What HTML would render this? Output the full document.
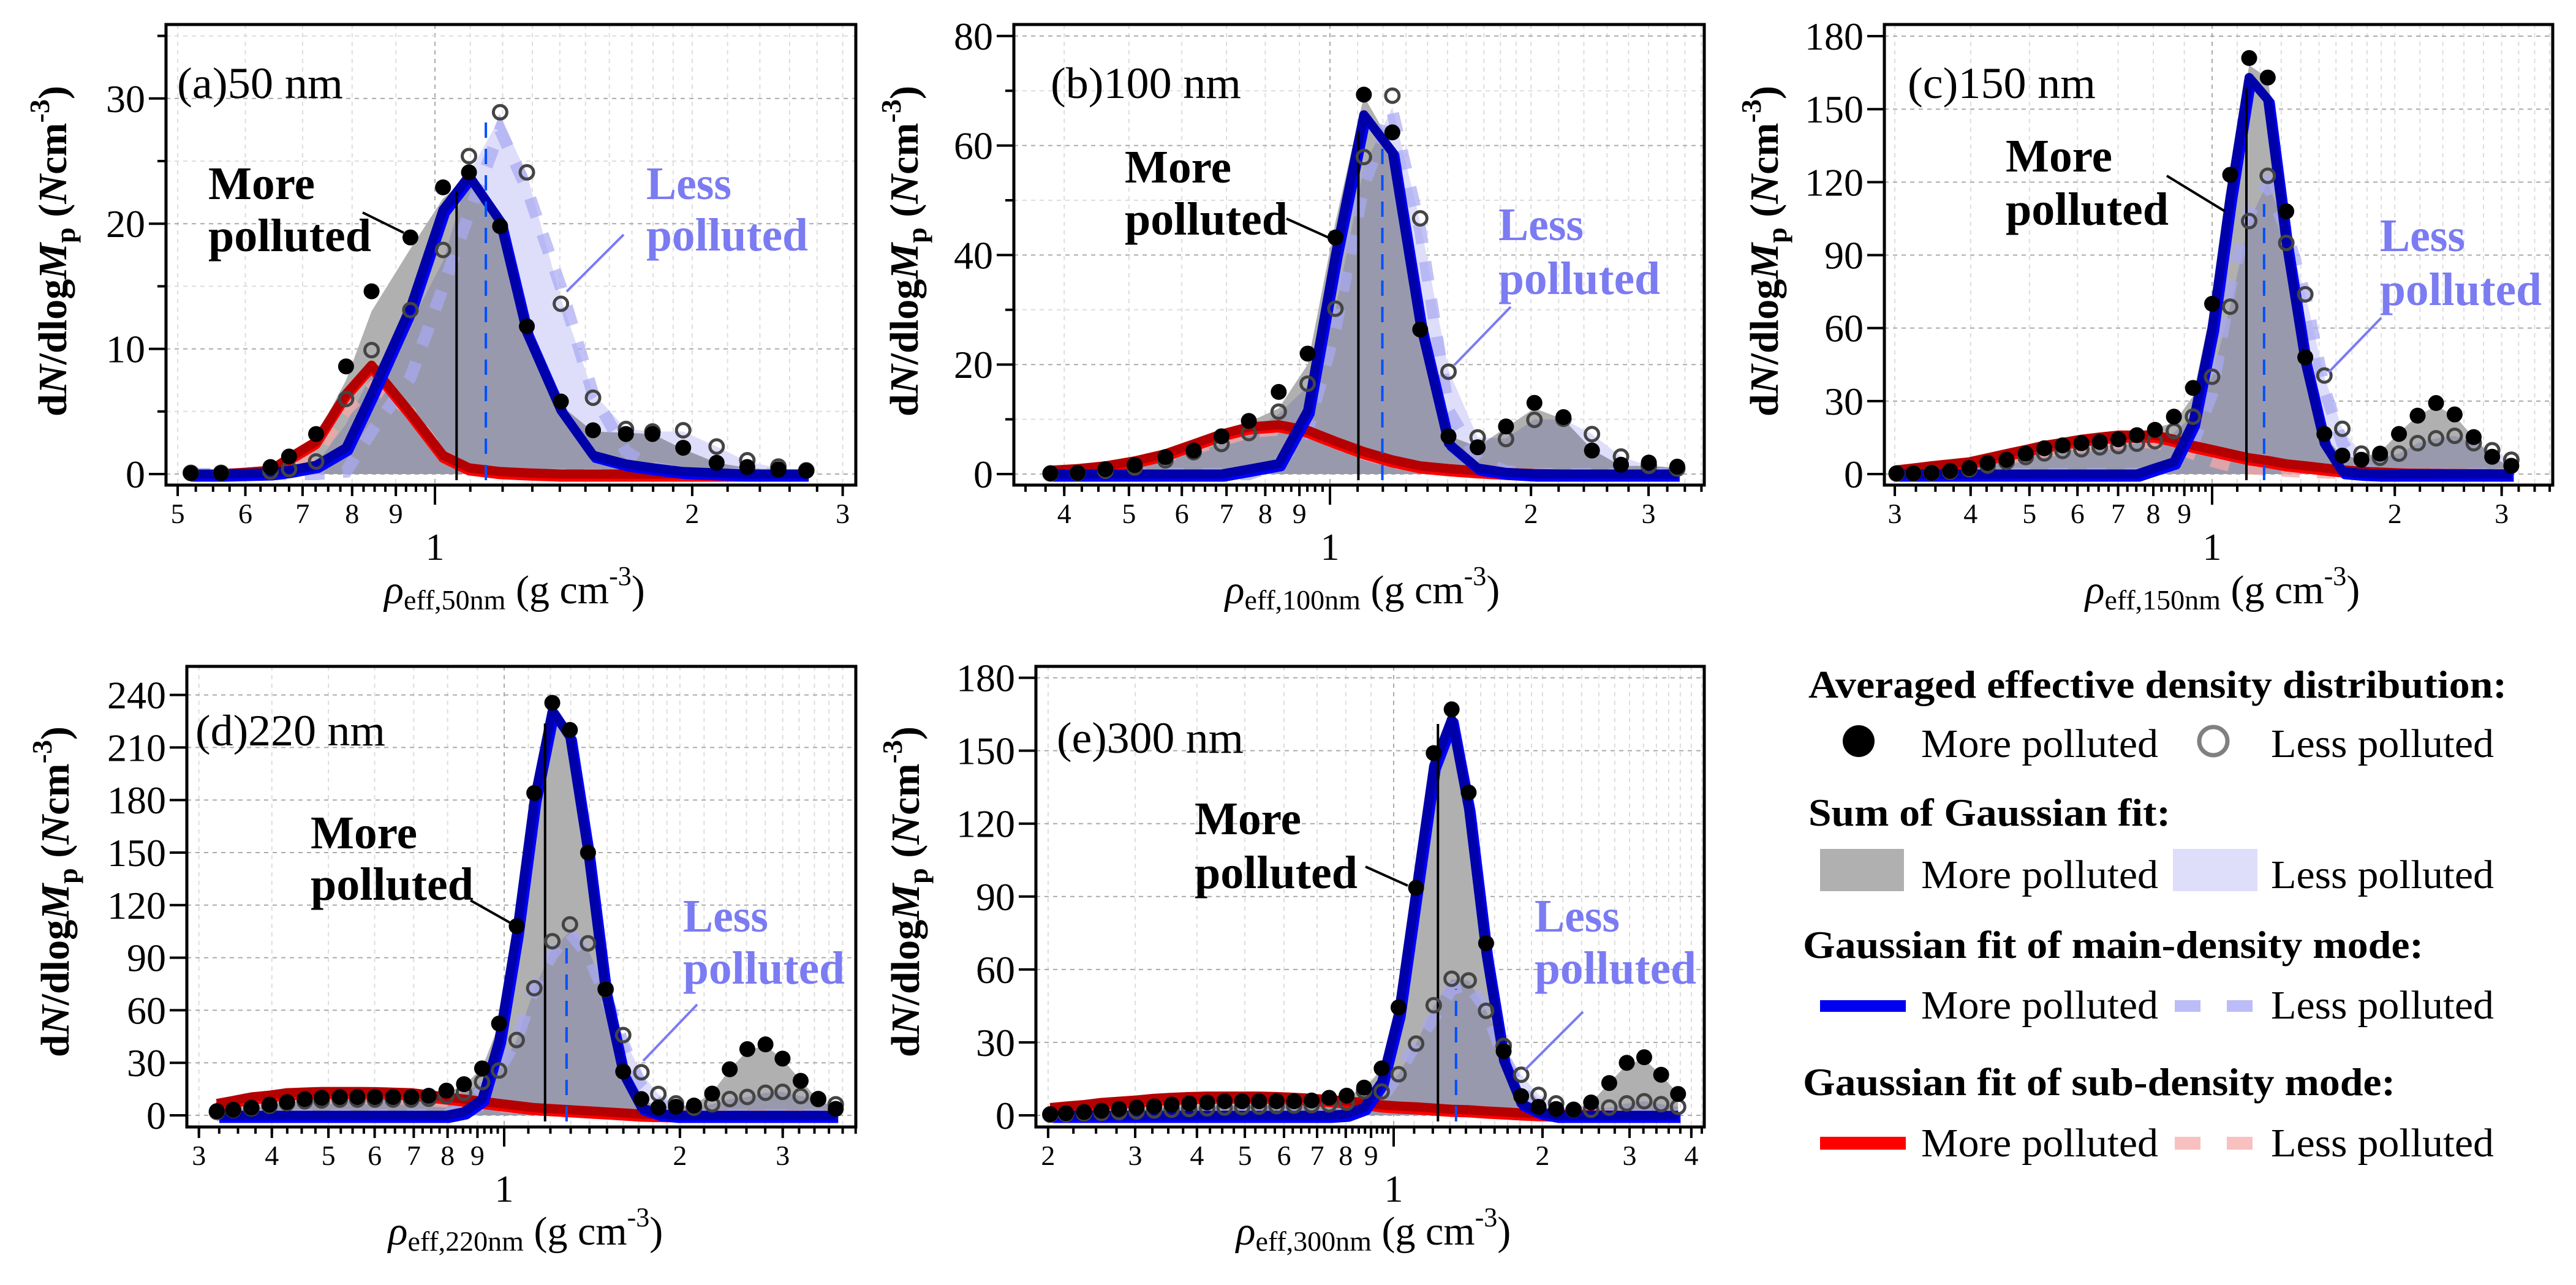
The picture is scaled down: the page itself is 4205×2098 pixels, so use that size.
<!DOCTYPE html>
<html><head><meta charset="utf-8"><title>Effective density distributions</title>
<style>
html,body{margin:0;padding:0;background:#fff;}
svg, svg text{font-family:"Liberation Serif","DejaVu Serif",serif;}
</style></head>
<body>
<svg id="fig" xmlns="http://www.w3.org/2000/svg" width="4205" height="2093" viewBox="0 0 4205 2093" font-family="Liberation Serif, serif">
<rect x="0" y="0" width="4205" height="2093" fill="#fff"/>
<g id="panels"></g>
<g id="legend">
  <text x="2952" y="1139" font-size="64" font-weight="bold" textLength="1140" lengthAdjust="spacingAndGlyphs">Averaged effective density distribution:</text>
  <circle cx="3034" cy="1210" r="26" fill="#000"/>
  <text x="3136" y="1236" font-size="66" textLength="387" lengthAdjust="spacingAndGlyphs">More polluted</text>
  <circle cx="3613" cy="1210" r="23" fill="none" stroke="#808080" stroke-width="7"/>
  <text x="3707" y="1236" font-size="66" textLength="364" lengthAdjust="spacingAndGlyphs">Less polluted</text>
  <text x="2952" y="1348" font-size="64" font-weight="bold" textLength="591" lengthAdjust="spacingAndGlyphs">Sum of Gaussian fit:</text>
  <rect x="2971" y="1386" width="137" height="69" fill="#b0b0b0"/>
  <text x="3136" y="1450" font-size="66" textLength="387" lengthAdjust="spacingAndGlyphs">More polluted</text>
  <rect x="3547" y="1386" width="138" height="69" fill="#dedefb"/>
  <text x="3707" y="1450" font-size="66" textLength="364" lengthAdjust="spacingAndGlyphs">Less polluted</text>
  <text x="2943" y="1564" font-size="64" font-weight="bold" textLength="1013" lengthAdjust="spacingAndGlyphs">Gaussian fit of main-density mode:</text>
  <rect x="2971" y="1633" width="140" height="19" fill="#0000f0"/>
  <text x="3136" y="1663" font-size="66" textLength="387" lengthAdjust="spacingAndGlyphs">More polluted</text>
  <rect x="3550" y="1633" width="42" height="19" fill="#bcbcf8"/>
  <rect x="3635" y="1633" width="42" height="19" fill="#bcbcf8"/>
  <text x="3707" y="1663" font-size="66" textLength="364" lengthAdjust="spacingAndGlyphs">Less polluted</text>
  <text x="2943" y="1788" font-size="64" font-weight="bold" textLength="967" lengthAdjust="spacingAndGlyphs">Gaussian fit of sub-density mode:</text>
  <rect x="2971" y="1856" width="140" height="21" fill="#ff0000"/>
  <text x="3136" y="1888" font-size="66" textLength="387" lengthAdjust="spacingAndGlyphs">More polluted</text>
  <rect x="3550" y="1856" width="42" height="21" fill="#f9c0c0"/>
  <rect x="3635" y="1856" width="42" height="21" fill="#f9c0c0"/>
  <text x="3707" y="1888" font-size="66" textLength="364" lengthAdjust="spacingAndGlyphs">Less polluted</text>
</g>
</svg>
<script>
// ---------- Panel (a) 50 nm ----------
const aX = [.518,.562,.642,.675,.726,.787,.843,.936,1.022,1.096,1.192,1.281,1.404,1.531,1.673,1.797,1.952,2.136,2.32,2.523,2.72];
const aMore = [.07,.07,.56,1.4,3.2,8.6,14.6,18.9,22.9,24.1,19.8,11.8,5.8,3.5,3.2,3.2,2.1,.9,.56,.36,.26];
const aLess = [.1,.1,.2,.4,1.0,6.0,9.9,13.1,17.9,25.4,28.9,24.1,13.6,6.1,3.6,3.4,3.5,2.2,1.1,.6,.3];
const aSumMore = [0,0,.3,1.3,3,7.5,13,18,22,23.8,19.8,11.5,5.5,3.4,3.3,3.2,2,.9,.5,.3,.2];
const aSumLess = [0,0,.1,.3,.8,4,8,12,17,24,28.5,24,14,6.5,3.6,3.4,3.4,2.2,1,.5,.3];
const aMainMore = [0,0,.1,.3,.7,2.1,6.4,13.3,21.1,23.8,20.2,11.3,5.1,1.5,.8,.5,.2,.1,0,0,0];
const aMainLess = [0,0,0,0,0,.2,3.4,7.7,14.9,20.8,27.5,22.8,14.9,6.4,1.8,.5,.1,0,0,0,0];
const aSubMore = [0,0,.3,1.3,2.6,6.4,8.7,4.9,1.5,.5,.2,.1,0,0,0,0,0,0,0,0,0];
const aSubLess = [0,0,.2,.8,1.5,5,7,5,1.5,.4,.1,0,0,0,0,0,0,0,0,0,0];
const aCenters = [1.06,1.147];
const aCenterHeights = [22.6,28.6];
const aYTicks = [0,10,20,30];
const aYMinor = [5,15,25,35];
const aXTicks = [.5,.6,.7,.8,.9,1,2,3];

// ---------- Panel (b) 100 nm ----------
const bX = [.3815,.419,.461,.51,.567,.625,.688,.756,.838,.926,1.019,1.124,1.24,1.365,1.505,1.664,1.835,2.024,2.237,2.468,2.728,3.003,3.312];
const bMore = [.15,.22,.9,1.65,3.1,4.3,6.9,9.7,15,22,43.2,69.3,62.4,26.4,6.9,4.9,8.7,13,10.4,4.3,1.7,2.1,1.35];
const bLess = [.1,.2,.6,1.2,2.5,4,5.5,7.5,11.4,16.5,30.2,57.9,69.1,46.7,18.7,6.7,6.4,9.9,10.1,7.3,3.2,1.5,1];
const bSumMore = [.7,1,1.5,2.4,3.7,5.5,7.3,9.5,12,20,46,69,60,28,7,5,8.5,12,10,4.5,1.5,1.5,1.2];
const bSumLess = [.1,.2,.6,1.2,2.5,4,5.5,7.5,11,16,30,56,67,46,19,6.7,6.5,10,10,7.3,3.2,1.5,1];
const bMainMore = [0,0,0,0,0,0,0,.9,1.9,11.6,40,65.6,58.8,27.4,5.6,1.1,.3,0,0,0,0,0,0];
const bMainLess = [0,0,0,0,0,0,0,0,1.9,7.9,26.6,52.8,66.3,44.6,11.6,2.6,.5,0,0,0,0,0,0];
const bSubMore = [.7,1,1.5,2.4,3.7,5.5,7.3,8.6,9,8,6,4.1,2.6,1.5,1,.6,.3,.1,0,0,0,0,0];
const bSubLess = [.5,.8,1.2,2,3,4.5,6,7.5,8,7.5,5.5,3.5,2,1.2,.7,.4,.2,0,0,0,0,0,0];
const bCenters = [1.103,1.198];
const bCenterHeights = [62.7,59.4];
const bYTicks = [0,20,40,60,80];
const bYMinor = [10,30,50,70];
const bXTicks = [.4,.5,.6,.7,.8,.9,1,2,3];

// ---------- Panel (c) 150 nm ----------
const cX = [.302,.322,.345,.370,.398,.4266,.4584,.493,.529,.567,.609,.653,.7006,.7516,.805,.865,.930,1.0,1.071,1.151,1.235,1.325,1.424,1.531,1.639,1.762,1.891,2.032,2.181,2.339,2.51,2.698,2.894,3.112];
const cMore = [.3,.3,.5,1.3,2.5,4.6,5.9,8.4,10.6,11.8,12.7,13.2,14.3,16,18.2,23.6,35.4,70,123,171,163,108,48,16.5,7.6,5.9,8.4,16.5,24,29.2,24.5,15.2,7.1,3.4];
const cLess = [.2,.3,.5,1,2,3.5,5,7,8.5,9.5,10.2,11,11.5,12.5,13.5,17.7,23.6,40,68.8,104,122.6,95,73.9,40.5,18.6,8.4,6.7,8.4,12.7,14.7,15.7,12.7,9.8,5.9];
const cSumMore = [1.7,2.5,3.4,4.2,5,6.5,8.4,10,11.8,13,14.3,15,16,17,19,21,32,70,123,168,163,108,50,16,7,7,9,17,24,28,24,15,7,3];
const cSumLess = [.2,.3,.5,1,2,3.5,5,7,8.5,9.5,10.2,11,11.5,12.5,13.5,17,24,40,69,104,120,100,74,40,18.6,8.4,6.7,8.4,12.7,14.7,15.7,12.7,9.8,5.9];
const cMainMore = [0,0,0,0,0,0,0,0,0,0,0,0,0,0,2.5,5,21,60,114,163,154,95,46,12.6,1,.3,0,0,0,0,0,0,0,0];
const cMainLess = [0,0,0,0,0,0,0,0,0,0,0,0,0,0,1,4,12.7,33,77,107,119,100,73,35,12.7,2,0,0,0,0,0,0,0,0];
const cSubMore = [1.7,2.5,3.4,4.2,5,6.7,8.4,10.1,11.8,13,14.3,15.2,16,16,16,14.3,11.8,10.1,8.4,6.7,5.6,4.2,3.4,2.5,1.7,1.2,.8,.5,.3,.3,.2,.2,.1,.1];
const cSubLess = [1,1.5,2,3,4,5,6,7.5,9,10,11,12,12.5,13,12.5,11,8,5,3,2,1.5,1,.5,.3,.2,0,0,0,0,0,0,0,0,0];
const cCenters = [1.139,1.218];
const cCenterHeights = [158.6,111];
const cYTicks = [0,30,60,90,120,150,180];
const cYMinor = [];
const cXTicks = [.3,.4,.5,.6,.7,.8,.9,1,2,3];

// ---------- Panel (d) 220 nm ----------
const dX = [.322,.3435,.369,.3963,.4247,.4553,.4868,.5229,.5604,.6006,.6452,.6931,.7427,.7962,.8533,.9166,.98,1.0505,1.126,1.209,1.296,1.392,1.492,1.599,1.718,1.837,1.969,2.114,2.271,2.434,2.609,2.803,2.998,3.22,3.451,3.698];
const dMore = [2.4,3.2,4.4,6.1,7.6,9.3,10,10.5,10.5,10.5,10.5,10.5,11.2,14.1,17.8,26.8,52.4,108,184,235.5,220,150,72,25,9.3,4.4,4.9,5.6,12.4,26.3,37.8,40.5,32.4,19.7,9.3,3.7];
const dLess = [2,3,4,5.5,7,8,8.5,9,9,9,9,9,9.5,11,12.9,19,25.6,43,72.6,99.4,109,98.2,72,45.8,24.6,12.2,6.8,4.4,6.3,9.3,10.5,12.9,13.4,11,9.3,6.3];
const dSumMore = [6.8,8.5,10.5,11.5,12.9,13.3,13.6,13.6,13.6,13.5,13.2,12.9,12.5,13,17,27,52,108,184,232,220,150,72,25,9,5,5,6,13,26,37,40,32,20,9,4];
const dSumLess = [2,3,4,5.5,7,8,8.5,9,9,9,9,9,9.5,11,13,19,26,43,72,95,105,95,70,45,24,12,7,4.4,6.3,9.3,10.5,12.9,13.4,11,9.3,6.3];
const dMainMore = [0,0,0,0,0,0,0,0,0,0,0,0,0,0,2,9.3,43,104,180,231,216,150,70,24,4.4,1,0,0,0,0,0,0,0,0,0,0];
const dMainLess = [0,0,0,0,0,0,0,0,0,0,0,0,0,0,5,14,26,43,72.6,92,104,92,68,41,16.6,6.8,2,0,0,0,0,0,0,0,0,0];
const dSubMore = [6.8,8.5,10.5,11.5,12.9,13.3,13.6,13.6,13.6,13.5,13.2,12.9,11.7,10.5,9.3,8,6.8,5.6,4.4,3.8,3.2,2.6,2,1.4,.7,.5,.3,0,0,0,0,0,0,0,0,0];
const dSubLess = [4.8,6,7.4,8,9,9.3,9.5,9.5,9.5,9.4,9.2,9,8.2,7.4,6.5,5.6,4.8,3.9,3.1,2.7,2.2,1.8,1.4,1,.5,.3,.2,0,0,0,0,0,0,0,0,0];
const dCenters = [1.175,1.279];
const dCenterHeights = [223.7,99.4];
const dYTicks = [0,30,60,90,120,150,180,210,240];
const dYMinor = [];
const dXTicks = [.3,.4,.5,.6,.7,.8,.9,1,2,3];

// ---------- Panel (e) 300 nm ----------
const eX = [.202,.2174,.2364,.2565,.2783,.302,.3277,.3555,.3857,.4195,.455,.4937,.5342,.5796,.6289,.6823,.7403,.8032,.8714,.9455,1.023,1.11,1.205,1.31,1.418,1.538,1.669,1.811,1.964,2.131,2.312,2.508,2.729,2.961,3.212,3.476,3.761];
const eMore = [.5,.9,1.4,1.9,2.6,3.2,3.7,4.4,4.9,5.3,5.8,5.8,5.8,5.8,5.8,6.1,7.2,8.1,11.4,19.3,44.4,93.6,149,167,132.8,70.8,26.4,7.9,3.5,2.6,2.3,5.3,13.3,21.6,23.9,16.7,8.8];
const eLess = [.3,.5,.8,1,1.3,1.6,2,2.3,2.6,2.9,3.2,3.4,3.6,3.8,4,4.2,4.5,5.2,10,9.8,16.9,29.5,45.3,56.2,55.5,43,28.6,16.7,8.4,4.9,2.3,2.3,3.2,4.9,5.8,4.6,3.5];
const eSumMore = [3.2,3.8,4.4,5.3,5.8,6.3,7,7.4,7.9,7.9,7.9,7.9,7.9,7.9,7.5,7,7.2,8.1,11,19,44,93,145,163,130,70,26,8,3.5,2.6,2.5,5.3,13.3,21,23,16.7,8.8];
const eSumLess = [.3,.5,.8,1,1.3,1.6,2,2.3,2.6,2.9,3.2,3.4,3.6,3.8,4,4.2,4.5,5.2,7,10,17,29.5,45,56,55.5,43,28.6,16.7,8.4,4.9,2.3,2.3,3.2,4.9,5.8,4.6,3.5];
const eMainMore = [0,0,0,0,0,0,0,0,0,0,0,0,0,0,0,0,0,.5,3.2,13.7,41.8,92.7,143.7,163,126,66.4,22.5,4.9,1.4,0,0,0,0,0,0,0,0];
const eMainLess = [0,0,0,0,0,0,0,0,0,0,0,0,0,0,0,0,0,0,2.3,6.7,17.2,29.5,40,52,54,43.5,24,10,3,1,0,0,0,0,0,0,0];
const eSubMore = [3.2,3.8,4.4,5.3,5.8,6.3,7,7.4,7.7,7.9,7.9,7.9,7.9,7.7,7.4,7,6.5,5.9,5.3,4.3,3.8,3.5,3.0,2.5,2.3,1.8,1.4,1,.7,.5,.4,.2,.1,0,0,0,0];
const eSubLess = [2.6,3,3.5,4.2,4.6,5,5.6,5.9,6.2,6.3,6.3,6.3,6.3,6.2,5.9,5.6,5.2,4.7,4.2,3.4,3,2.8,2.4,2,1.8,1.4,1.1,.8,.6,.4,.3,.2,.1,0,0,0,0];
const eCenters = [1.229,1.337];
const eCenterHeights = [161,52];
const eYTicks = [0,30,60,90,120,150,180];
const eYMinor = [];
const eXTicks = [.2,.3,.4,.5,.6,.7,.8,.9,1,2,3,4];

const NS = 'http://www.w3.org/2000/svg';
function mk(tag, attrs, parent){
  const el = document.createElementNS(NS, tag);
  for (const k in attrs) el.setAttribute(k, attrs[k]);
  if (parent) parent.appendChild(el);
  return el;
}

const panels = [
  {id:'a', size:'50', L:271, T:40, R:1397, B:792, xOne:710, dec:1395, y0:774, per:20.44,
   x:aX, more:aMore, less:aLess, sumMore:aSumMore, sumLess:aSumLess, mainMore:aMainMore, mainLess:aMainLess, subMore:aSubMore, subLess:aSubLess,
   centers:aCenters, cH:aCenterHeights, yt:aYTicks, ym:aYMinor, xt:aXTicks,
   lab:{x:289,y:160,w:271}, yTitle:{x:108,y:410}, xTitle:{x:840,y:985},
   moreTxt:{x:340,y1:325,y2:410,l:[592,347,659,380]}, lessTxt:{x:1055,y1:325,y2:409,l:[1018,383,925,476]}},
  {id:'b', size:'100', L:1655, T:40, R:2782, B:792, xOne:2171, dec:1090, y0:774, per:8.94,
   x:bX, more:bMore, less:bLess, sumMore:bSumMore, sumLess:bSumLess, mainMore:bMainMore, mainLess:bMainLess, subMore:bSubMore, subLess:bSubLess,
   centers:bCenters, cH:bCenterHeights, yt:bYTicks, ym:bYMinor, xt:bXTicks,
   lab:{x:1715,y:160,w:311}, yTitle:{x:1498,y:410}, xTitle:{x:2224,y:985},
   moreTxt:{x:1836,y1:298,y2:383,l:[2100,357,2169,388]}, lessTxt:{x:2446,y1:392,y2:480,l:[2466,501,2374,596]}},
  {id:'c', size:'150', L:3076, T:40, R:4167, B:792, xOne:3611, dec:990.6, y0:774, per:3.972,
   x:cX, more:cMore, less:cLess, sumMore:cSumMore, sumLess:cSumLess, mainMore:cMainMore, mainLess:cMainLess, subMore:cSubMore, subLess:cSubLess,
   centers:cCenters, cH:cCenterHeights, yt:cYTicks, ym:cYMinor, xt:cXTicks,
   lab:{x:3114,y:160,w:307}, yTitle:{x:2902,y:410}, xTitle:{x:3628,y:985},
   moreTxt:{x:3274,y1:280,y2:367,l:[3537,287,3632,345]}, lessTxt:{x:3885,y1:410,y2:498,l:[3887,519,3801,608]}},
  {id:'d', size:'220', L:305, T:1088, R:1397, B:1840, xOne:823, dec:953, y0:1821, per:2.860,
   x:dX, more:dMore, less:dLess, sumMore:dSumMore, sumLess:dSumLess, mainMore:dMainMore, mainLess:dMainLess, subMore:dSubMore, subLess:dSubLess,
   centers:dCenters, cH:dCenterHeights, yt:dYTicks, ym:dYMinor, xt:dXTicks,
   lab:{x:319,y:1217,w:310}, yTitle:{x:112,y:1456}, xTitle:{x:858,y:2032},
   moreTxt:{x:507,y1:1385,y2:1469,l:[768,1470,837,1509]}, lessTxt:{x:1115,y1:1521,y2:1606,l:[1138,1640,1050,1732]}},
  {id:'e', size:'300', L:1691, T:1088, R:2782, B:1840, xOne:2275, dec:807, y0:1821, per:3.969,
   x:eX, more:eMore, less:eLess, sumMore:eSumMore, sumLess:eSumLess, mainMore:eMainMore, mainLess:eMainLess, subMore:eSubMore, subLess:eSubLess,
   centers:eCenters, cH:eCenterHeights, yt:eYTicks, ym:eYMinor, xt:eXTicks,
   lab:{x:1725,y:1229,w:305}, yTitle:{x:1500,y:1456}, xTitle:{x:2242,y:2032},
   moreTxt:{x:1950,y1:1362,y2:1450,l:[2229,1415,2298,1446]}, lessTxt:{x:2505,y1:1521,y2:1606,l:[2584,1652,2490,1746]}}
];

function sx(p, v){ return p.xOne + Math.log10(v) * p.dec; }
function sy(p, v){ return p.y0 - v * p.per; }
function linePts(p, xs, ys){ return xs.map((v,i)=> sx(p,v).toFixed(1)+','+sy(p,ys[i]).toFixed(1)).join(' '); }
function areaPts(p, xs, ys){
  return sx(p,xs[0]).toFixed(1)+','+sy(p,0).toFixed(1)+' '+linePts(p,xs,ys)+' '+sx(p,xs[xs.length-1]).toFixed(1)+','+sy(p,0).toFixed(1);
}

const FONT = '"Liberation Serif", serif';
const root = document.getElementById('panels');
const defs = mk('defs', {}, root);

panels.forEach(p => {
  const g = mk('g', {'font-family':FONT}, root);
  
  
  const cp = mk('clipPath', {id:'clip-'+p.id}, defs);
  mk('rect', {x:p.L, y:p.T, width:p.R-p.L, height:p.B-p.T}, cp);

  const vmin = Math.pow(10, (p.L - p.xOne)/p.dec);
  const vmax = Math.pow(10, (p.R - p.xOne)/p.dec);
  const minor = [];
  for (let v = 0.1; v < 5; ) {
    if (v >= vmin && v <= vmax) minor.push(+v.toFixed(3));
    v += v < 0.999 ? 0.025 : (v < 1.999 ? 0.1 : 0.2);
    v = +v.toFixed(3);
  }
  const grid = mk('g', {}, g);
  
  
  minor.forEach(v => {
    const isMaj = Math.abs(v*10 - Math.round(v*10)) < 1e-6;
    if (!isMaj) return;
    const X = sx(p,v);
    mk('line', {x1:X, x2:X, y1:p.T, y2:p.B, stroke: Math.abs(v-1)<1e-6 ? '#aaa' : '#ddd', 'stroke-width':2, 'stroke-dasharray':'7,7'}, grid);
  });
  p.yt.concat(p.ym).forEach(v => {
    const Y = sy(p,v);
    mk('line', {x1:p.L, x2:p.R, y1:Y, y2:Y, stroke: p.yt.includes(v) ? '#aaa' : '#ddd', 'stroke-width':2, 'stroke-dasharray':'7,7'}, grid);
  });

  const plot = mk('g', {'clip-path':'url(#clip-'+p.id+')'}, g);
  const fl = mk('polygon', {points:areaPts(p,p.x,p.sumLess), fill:'#dedefb'}, plot);
  
  
  const fm = mk('polygon', {points:areaPts(p,p.x,p.sumMore), fill:'#b0b0b0', style:'mix-blend-mode:multiply'}, plot);
  
  
  const sl = mk('polyline', {points:linePts(p,p.x,p.subLess), fill:'none', stroke:'#f4a8a8', 'stroke-opacity':0.75, 'stroke-width':17, 'stroke-dasharray':'30,28'}, plot);
  
  
  const ml = mk('polyline', {points:linePts(p,p.x,p.mainLess), fill:'none', stroke:'#a8a8f2', 'stroke-opacity':0.7, 'stroke-width':20, 'stroke-dasharray':'32,30'}, plot);
  
  
  const smB = mk('polyline', {points:linePts(p,p.x,p.subMore), fill:'none', stroke:'#ff0000', 'stroke-width':15, 'stroke-linejoin':'round', transform:'translate(0,5)'}, plot);
  
  
  const sm = mk('polyline', {points:linePts(p,p.x,p.subMore), fill:'none', stroke:'#b40000', 'stroke-width':15, 'stroke-linejoin':'round'}, plot);
  
  
  const mmB = mk('polyline', {points:linePts(p,p.x,p.mainMore), fill:'none', stroke:'#0000ff', 'stroke-width':15, 'stroke-linejoin':'round', transform:'translate(4,5)'}, plot);
  
  
  const mm = mk('polyline', {points:linePts(p,p.x,p.mainMore), fill:'none', stroke:'#0000aa', 'stroke-width':15, 'stroke-linejoin':'round'}, plot);
  
  
  const vm = mk('line', {x1:sx(p,p.centers[0]), x2:sx(p,p.centers[0]), y1:sy(p,0)+10, y2:sy(p,p.cH[0]), stroke:'#000', 'stroke-width':4}, plot);
  
  
  const vl = mk('line', {x1:sx(p,p.centers[1]), x2:sx(p,p.centers[1]), y1:sy(p,0)+10, y2:sy(p,p.cH[1]), stroke:'#0050ff', 'stroke-width':4, 'stroke-dasharray':'25,18'}, plot);
  
  
  p.x.forEach((v,i) => {
    const c = mk('circle', {cx:sx(p,v), cy:sy(p,p.less[i]), r:11, fill:'none', stroke:'#444', 'stroke-width':5}, plot);
    
    
  });
  p.x.forEach((v,i) => {
    const c = mk('circle', {cx:sx(p,v), cy:sy(p,p.more[i]), r:13, fill:'#000'}, plot);
    
    
  });

  const fr = mk('rect', {x:p.L, y:p.T, width:p.R-p.L, height:p.B-p.T, fill:'none', stroke:'#000', 'stroke-width':5}, g);
  
  

  const xax = mk('g', {}, g);
  
  
  minor.forEach(v => {
    const X = sx(p,v);
    mk('line', {x1:X, x2:X, y1:p.B, y2:p.B+11, stroke:'#000', 'stroke-width':4}, xax);
  });
  p.xt.forEach(v => {
    const X = sx(p,v);
    const one = Math.abs(v-1) < 1e-6;
    mk('line', {x1:X, x2:X, y1:p.B, y2:p.B+(one?32:18), stroke:'#000', 'stroke-width':4}, xax);
    const t = mk('text', {x:X, y: one ? p.B+122 : p.B+62, 'font-size': one ? 62 : 46, 'text-anchor':'middle', 'font-family':FONT}, xax);
    t.textContent = v < 1 ? String(Math.round(v*10)) : String(v);
    
    
  });
  const yax = mk('g', {}, g);
  
  
  p.ym.forEach(v => {
    const Y = sy(p,v);
    mk('line', {x1:p.L-14, x2:p.L, y1:Y, y2:Y, stroke:'#000', 'stroke-width':4}, yax);
  });
  p.yt.forEach(v => {
    const Y = sy(p,v);
    mk('line', {x1:p.L-28, x2:p.L, y1:Y, y2:Y, stroke:'#000', 'stroke-width':4}, yax);
    const t = mk('text', {x:p.L-34, y:Y+22, 'font-size':64, 'text-anchor':'end', 'font-family':FONT}, yax);
    t.textContent = String(v);
    
    
  });

  const yt = mk('text', {x:0, y:0, 'font-size':66, 'font-weight':'bold', 'text-anchor':'middle', 'font-family':FONT, textLength:540, lengthAdjust:'spacingAndGlyphs', transform:'translate('+p.yTitle.x+','+p.yTitle.y+') rotate(-90)'}, g);
  
  
  yt.innerHTML = 'd<tspan font-style="italic">N</tspan>/dlog<tspan font-style="italic">M</tspan><tspan font-size="46" dy="14">p</tspan><tspan dy="-14"> (</tspan><tspan font-style="italic">N</tspan>cm<tspan font-size="46" dy="-28">-3</tspan><tspan dy="28">)</tspan>';

  const xt = mk('text', {x:p.xTitle.x, y:p.xTitle.y, 'font-size':66, 'text-anchor':'middle', 'font-family':FONT}, g);
  
  
  xt.innerHTML = '<tspan font-style="italic">ρ</tspan><tspan font-size="46" dy="10">eff,'+p.size+'nm</tspan><tspan dy="-10"> (g cm</tspan><tspan font-size="44" dy="-30">-3</tspan><tspan dy="30">)</tspan>';

  const lb = mk('text', {x:p.lab.x, y:p.lab.y, 'font-size':72, 'font-family':FONT, textLength:p.lab.w, lengthAdjust:'spacingAndGlyphs'}, g);
  lb.textContent = '(' + p.id + ')' + p.size + ' nm';
  
  

  const m1 = mk('text', {x:p.moreTxt.x, y:p.moreTxt.y1, 'font-size':76, 'font-weight':'bold', 'font-family':FONT, textLength:174, lengthAdjust:'spacingAndGlyphs'}, g);
  m1.textContent = 'More';
  
  
  const m2 = mk('text', {x:p.moreTxt.x, y:p.moreTxt.y2, 'font-size':76, 'font-weight':'bold', 'font-family':FONT, textLength:266, lengthAdjust:'spacingAndGlyphs'}, g);
  m2.textContent = 'polluted';
  
  
  const ml1 = mk('line', {x1:p.moreTxt.l[0], y1:p.moreTxt.l[1], x2:p.moreTxt.l[2], y2:p.moreTxt.l[3], stroke:'#000', 'stroke-width':4}, g);
  
  
  const l1 = mk('text', {x:p.lessTxt.x, y:p.lessTxt.y1, 'font-size':76, 'font-weight':'bold', fill:'#7b7bf2', 'font-family':FONT, textLength:139, lengthAdjust:'spacingAndGlyphs'}, g);
  l1.textContent = 'Less';
  
  
  const l2 = mk('text', {x:p.lessTxt.x, y:p.lessTxt.y2, 'font-size':76, 'font-weight':'bold', fill:'#7b7bf2', 'font-family':FONT, textLength:264, lengthAdjust:'spacingAndGlyphs'}, g);
  l2.textContent = 'polluted';
  
  
  const ll1 = mk('line', {x1:p.lessTxt.l[0], y1:p.lessTxt.l[1], x2:p.lessTxt.l[2], y2:p.lessTxt.l[3], stroke:'#7b7bf2', 'stroke-width':4}, g);
  
  
});
</script>
</body></html>
